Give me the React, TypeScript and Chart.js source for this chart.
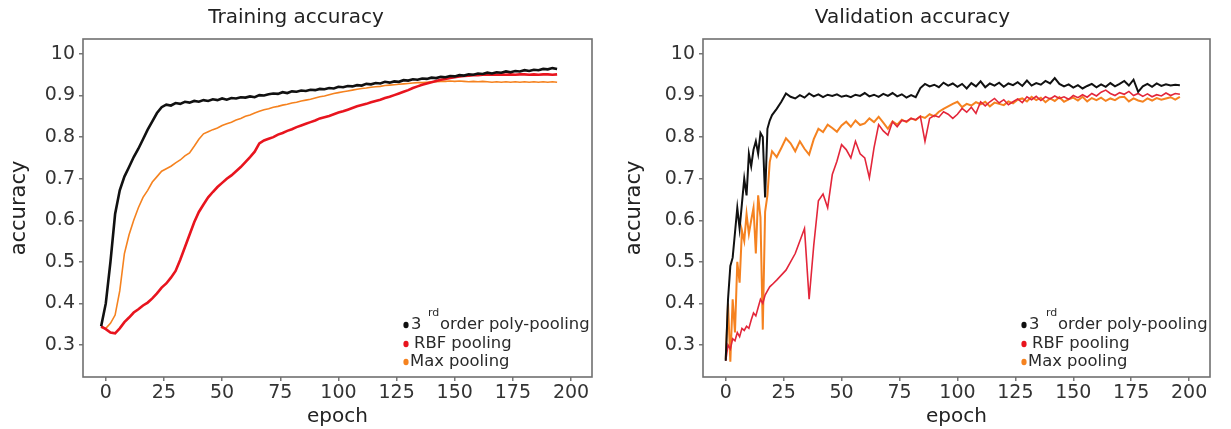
import React, { useEffect, useRef } from 'react';
import { Chart, registerables } from 'chart.js';

Chart.register(...registerables);

// ---------------- data ----------------
const trainEpochs = [
  -2, 0, 2, 4, 6, 8, 10, 12, 14, 16,
  18, 20, 22, 24, 26, 28, 30, 32, 34, 36,
  38, 40, 42, 44, 46, 48, 50, 52, 54, 56,
  58, 60, 62, 64, 66, 68, 70, 72, 74, 76,
  78, 80, 82, 84, 86, 88, 90, 92, 94, 96,
  98, 100, 102, 104, 106, 108, 110, 112, 114, 116,
  118, 120, 122, 124, 126, 128, 130, 132, 134, 136,
  138, 140, 142, 144, 146, 148, 150, 152, 154, 156,
  158, 160, 162, 164, 166, 168, 170, 172, 174, 176,
  178, 180, 182, 184, 186, 188, 190, 192, 194,
];

const trainPoly = [
  0.345, 0.40, 0.50, 0.615, 0.672, 0.705, 0.728, 0.752, 0.772, 0.795,
  0.818, 0.838, 0.858, 0.872, 0.878, 0.876, 0.882, 0.880, 0.885, 0.883,
  0.887, 0.885, 0.889, 0.887, 0.891, 0.889, 0.893, 0.890, 0.894, 0.893,
  0.896, 0.895, 0.898, 0.896, 0.901, 0.900, 0.903, 0.905, 0.904, 0.908,
  0.906, 0.910, 0.909, 0.912, 0.911, 0.914, 0.913, 0.916, 0.915, 0.918,
  0.917, 0.921, 0.920, 0.923, 0.922, 0.925, 0.924, 0.928, 0.927, 0.930,
  0.929, 0.933, 0.931, 0.934, 0.933, 0.937, 0.936, 0.939, 0.938, 0.941,
  0.940, 0.943, 0.942, 0.945, 0.944, 0.947, 0.946, 0.949, 0.948, 0.951,
  0.950, 0.953, 0.952, 0.955, 0.953, 0.956, 0.955, 0.958, 0.956, 0.959,
  0.958, 0.961, 0.959, 0.962, 0.961, 0.964, 0.963, 0.966, 0.964,
];

const trainRbf = [
  0.345, 0.338, 0.330, 0.328, 0.340, 0.355, 0.366, 0.378, 0.386, 0.395,
  0.402, 0.412, 0.424, 0.438, 0.448, 0.462, 0.478, 0.505, 0.535, 0.565,
  0.595, 0.620, 0.638, 0.655, 0.668, 0.680, 0.690, 0.700, 0.708, 0.718,
  0.728, 0.740, 0.752, 0.765, 0.785, 0.792, 0.796, 0.800, 0.806, 0.810,
  0.815, 0.819, 0.824, 0.828, 0.832, 0.836, 0.840, 0.845, 0.848, 0.851,
  0.855, 0.859, 0.862, 0.866, 0.870, 0.874, 0.877, 0.880, 0.884, 0.887,
  0.890, 0.894, 0.897, 0.901, 0.905, 0.909, 0.913, 0.918, 0.922, 0.926,
  0.929, 0.932, 0.935, 0.938, 0.940, 0.942, 0.944, 0.946, 0.947, 0.948,
  0.949, 0.949, 0.950, 0.950, 0.951, 0.950, 0.951, 0.950, 0.951, 0.950,
  0.951, 0.951, 0.950, 0.951, 0.950, 0.951, 0.951, 0.950, 0.951,
];

const trainMax = [
  0.342, 0.340, 0.352, 0.372, 0.430, 0.520, 0.565, 0.600, 0.630, 0.655,
  0.672, 0.692, 0.705, 0.718, 0.724, 0.730, 0.738, 0.745, 0.755, 0.762,
  0.778, 0.795, 0.808, 0.813, 0.818, 0.822, 0.828, 0.832, 0.836, 0.841,
  0.845, 0.850, 0.853, 0.858, 0.862, 0.866, 0.868, 0.872, 0.874, 0.877,
  0.879, 0.882, 0.884, 0.887, 0.889, 0.891, 0.894, 0.897, 0.899, 0.902,
  0.905, 0.907, 0.909, 0.911, 0.913, 0.915, 0.917, 0.918, 0.920, 0.921,
  0.922, 0.924, 0.925, 0.926, 0.927, 0.928, 0.929, 0.930, 0.931, 0.931,
  0.932, 0.933, 0.933, 0.934, 0.934, 0.935, 0.934, 0.935, 0.934, 0.933,
  0.934, 0.933, 0.934, 0.933, 0.932, 0.933, 0.932, 0.933, 0.932, 0.933,
  0.932, 0.933, 0.932, 0.933, 0.932, 0.933, 0.932, 0.933, 0.932,
];

const valEpochs = [
  0, 1, 2, 3, 4, 5, 6, 7, 8, 9, 10, 11, 12, 13, 14, 15, 16, 17, 18, 19, 20,
  22, 24, 26, 28, 30, 32, 34, 36, 38, 40,
  42, 44, 46, 48, 50, 52, 54, 56, 58, 60,
  62, 64, 66, 68, 70, 72, 74, 76, 78, 80,
  82, 84, 86, 88, 90, 92, 94, 96, 98, 100,
  102, 104, 106, 108, 110, 112, 114, 116, 118, 120,
  122, 124, 126, 128, 130, 132, 134, 136, 138, 140,
  142, 144, 146, 148, 150, 152, 154, 156, 158, 160,
  162, 164, 166, 168, 170, 172, 174, 176, 178, 180,
  182, 184, 186, 188, 190, 192, 194, 196,
];

const valPoly = [
  0.262, 0.41, 0.49, 0.51, 0.57, 0.63, 0.58, 0.64, 0.70, 0.66, 0.76, 0.73, 0.77, 0.79, 0.76, 0.81, 0.80, 0.655, 0.82, 0.84, 0.853,
  0.868, 0.885, 0.905, 0.897, 0.893, 0.901, 0.895, 0.905, 0.898, 0.903,
  0.896, 0.902, 0.899, 0.903, 0.897, 0.900, 0.896, 0.902, 0.899, 0.906,
  0.898, 0.902, 0.897, 0.904, 0.899, 0.906, 0.898, 0.903, 0.895, 0.901,
  0.896, 0.918, 0.928, 0.922, 0.926, 0.920, 0.931, 0.924, 0.929, 0.921,
  0.928, 0.917, 0.930, 0.922, 0.934, 0.920, 0.929, 0.924, 0.931, 0.921,
  0.929, 0.925, 0.932, 0.923, 0.936, 0.924, 0.930, 0.926, 0.935, 0.929,
  0.942, 0.928, 0.922, 0.927, 0.919, 0.925, 0.917, 0.923, 0.928, 0.920,
  0.927, 0.921, 0.930, 0.922, 0.928, 0.935, 0.924, 0.938, 0.909, 0.922,
  0.928, 0.921, 0.929, 0.923, 0.927, 0.924, 0.926, 0.925,
];

const valRbf = [
  0.262, 0.30, 0.29, 0.315, 0.31, 0.33, 0.32, 0.34, 0.335, 0.345, 0.34, 0.36, 0.377, 0.37, 0.39, 0.41, 0.40, 0.42, 0.43, 0.44, 0.445,
  0.456, 0.468, 0.480, 0.500, 0.520, 0.550, 0.580, 0.410, 0.540, 0.647,
  0.663, 0.630, 0.710, 0.742, 0.782, 0.770, 0.750, 0.790, 0.760, 0.750,
  0.702, 0.774, 0.830, 0.815, 0.805, 0.837, 0.825, 0.840, 0.838, 0.845,
  0.842, 0.850, 0.790, 0.845, 0.852, 0.848, 0.861, 0.855, 0.845, 0.855,
  0.869, 0.860, 0.872, 0.857, 0.885, 0.875, 0.885, 0.893, 0.882, 0.890,
  0.878, 0.885, 0.892, 0.883, 0.897, 0.890, 0.898, 0.888, 0.897, 0.892,
  0.899, 0.893, 0.897, 0.891, 0.900, 0.895, 0.902, 0.896, 0.905, 0.899,
  0.908, 0.913, 0.905, 0.900, 0.907, 0.903, 0.910, 0.900, 0.905, 0.898,
  0.904, 0.897, 0.902, 0.899, 0.906, 0.900, 0.905, 0.903,
];

const valMax = [
  0.265, 0.40, 0.26, 0.41, 0.33, 0.50, 0.45, 0.575, 0.55, 0.615, 0.567, 0.60, 0.63, 0.52, 0.66, 0.607, 0.337, 0.62, 0.66, 0.74, 0.766,
  0.752, 0.774, 0.797, 0.785, 0.766, 0.790, 0.772, 0.758, 0.795, 0.820,
  0.812, 0.830, 0.822, 0.813, 0.828, 0.837, 0.825, 0.840, 0.829, 0.833,
  0.845, 0.836, 0.849, 0.835, 0.820, 0.838, 0.830, 0.842, 0.836, 0.845,
  0.841, 0.850, 0.846, 0.855, 0.850, 0.861, 0.868, 0.874, 0.880, 0.885,
  0.872, 0.880, 0.876, 0.884, 0.879, 0.885, 0.874, 0.883, 0.880, 0.877,
  0.886, 0.881, 0.890, 0.893, 0.886, 0.897, 0.889, 0.895, 0.884, 0.893,
  0.887, 0.896, 0.885, 0.891, 0.895, 0.888, 0.897, 0.886, 0.894, 0.889,
  0.895, 0.887, 0.893, 0.889, 0.896, 0.897, 0.886, 0.893, 0.888, 0.885,
  0.893, 0.888, 0.894, 0.890, 0.893, 0.896, 0.890, 0.897,
];

const yTickValues = [0.3, 0.4, 0.5, 0.6, 0.7, 0.8, 0.9, 1.0];
const yTickLabels = ['0.3', '0.4', '0.5', '0.6', '0.7', '0.8', '0.9', '10'];
const xTickValues = [0, 25, 50, 75, 100, 125, 150, 175, 200];
const xTickLabels = ['0', '25', '50', '75', '100', '125', '150', '175', '200'];

const chartTitles = ['Training accuracy', 'Validation accuracy'];
const xAxisTitle = 'epoch';
const yAxisTitle = 'accuracy';

// legend: [main, superscript, rest]
const legendEntries = [
  { main: '3', sup: 'rd', rest: 'order poly-pooling' },
  { main: 'RBF pooling', sup: '', rest: '' },
  { main: 'Max pooling', sup: '', rest: '' },
];

const COLOR_POLY = '#111111';
const COLOR_RBF = '#e8141e';
const COLOR_MAX = '#f5821f';
const FONT = "'DejaVu Sans', Verdana, sans-serif";

type Series = { values: number[]; color: string; width: number };

const framePlugin = {
  id: 'frame',
  afterDraw(chart: any) {
    const { ctx, chartArea } = chart;
    ctx.save();
    ctx.strokeStyle = '#707070';
    ctx.lineWidth = 1.6;
    ctx.strokeRect(chartArea.left, chartArea.top, chartArea.right - chartArea.left, chartArea.bottom - chartArea.top);
    ctx.restore();
  },
};

const legendPlugin = {
  id: 'customLegend',
  afterDatasetsDraw(chart: any) {
    const { ctx, chartArea } = chart;
    const colors = [COLOR_POLY, COLOR_RBF, COLOR_MAX];
    const rowsY = [chartArea.bottom - 52, chartArea.bottom - 33, chartArea.bottom - 15];
    const dotX = chartArea.right - 186;
    ctx.save();
    legendEntries.forEach((entry, i) => {
      const y = rowsY[i];
      ctx.fillStyle = colors[i];
      ctx.beginPath();
      ctx.ellipse(dotX, y, 2.6, 3.2, 0, 0, Math.PI * 2);
      ctx.fill();
      ctx.fillStyle = '#2a2a2a';
      ctx.textBaseline = 'middle';
      ctx.textAlign = 'left';
      ctx.font = `16.4px ${FONT}`;
      if (entry.sup) {
        ctx.fillText(entry.main, chartArea.right - 181, y);
        ctx.font = `11px ${FONT}`;
        ctx.fillText(entry.sup, chartArea.right - 164, y - 12);
        ctx.font = `16.4px ${FONT}`;
        ctx.fillText(entry.rest, chartArea.right - 152, y);
      } else {
        ctx.fillText(entry.main, chartArea.right - (i === 1 ? 178 : 182), y);
      }
    });
    ctx.restore();
  },
};

function AccChart(props: {
  title: string;
  epochs: number[];
  series: Series[];
  left: number;
  width: number;
  areaLeft: number;
  areaRight: number;
}) {
  const ref = useRef<HTMLCanvasElement>(null);
  const { title, epochs, series, left, width, areaLeft, areaRight } = props;
  useEffect(() => {
    const canvas = ref.current;
    if (!canvas) return;
    const chart = new Chart(canvas, {
      type: 'line',
      data: {
        datasets: series.map((s) => ({
          data: epochs.map((e, i) => ({ x: e, y: s.values[i] })),
          borderColor: s.color,
          backgroundColor: s.color,
          borderWidth: s.width,
          pointRadius: 0,
          tension: 0,
          fill: false,
        })),
      },
      options: {
        animation: false,
        responsive: false,
        maintainAspectRatio: false,
        events: [],
        layout: { padding: { left: 0, right: width - areaRight, top: 0, bottom: 0 } },
        plugins: {
          legend: { display: false },
          tooltip: { enabled: false },
          title: {
            display: true,
            text: title,
            color: '#222',
            font: { family: FONT, size: 20, weight: 'normal' },
            padding: { top: 6, bottom: 9 },
          },
        },
        scales: {
          x: {
            type: 'linear',
            min: -9.8,
            max: 209,
            afterBuildTicks: (axis: any) => {
              axis.ticks = xTickValues.map((v) => ({ value: v }));
            },
            afterFit: (axis: any) => {
              axis.height = 52;
            },
            ticks: {
              color: '#333',
              font: { family: FONT, size: 19 },
              padding: 1,
              maxRotation: 0,
              autoSkip: false,
              callback: (_v: any, i: number) => xTickLabels[i],
            },
            grid: { display: true, drawOnChartArea: false, drawTicks: true, tickLength: 4, color: '#777', lineWidth: 1.5 },
            border: { display: false },
            title: {
              display: true,
              text: xAxisTitle,
              color: '#222',
              font: { family: FONT, size: 20 },
              padding: { top: 0, bottom: 0 },
            },
          },
          y: {
            type: 'linear',
            min: 0.223,
            max: 1.036,
            afterBuildTicks: (axis: any) => {
              axis.ticks = yTickValues.map((v) => ({ value: v }));
            },
            afterFit: (axis: any) => {
              axis.width = areaLeft;
            },
            ticks: {
              color: '#333',
              font: { family: FONT, size: 19 },
              padding: 4,
              autoSkip: false,
              callback: (_v: any, i: number) => yTickLabels[i],
            },
            grid: { display: true, drawOnChartArea: false, drawTicks: true, tickLength: 4, color: '#777', lineWidth: 1.5 },
            border: { display: false },
            title: {
              display: true,
              text: yAxisTitle,
              color: '#222',
              font: { family: FONT, size: 21 },
              padding: { top: 7, bottom: 0 },
            },
          },
        },
      } as any,
      plugins: [framePlugin, legendPlugin],
    });
    return () => chart.destroy();
  }, []);
  return (
    <canvas
      ref={ref}
      width={width}
      height={429}
      style={{ position: 'absolute', left, top: 0, width, height: 429 }}
    />
  );
}

export default function App() {
  return (
    <div style={{ position: 'fixed', left: 0, top: 0, width: 1231, height: 429, background: '#fff' }}>
      <AccChart
        title={chartTitles[0]}
        epochs={trainEpochs}
        series={[
          { values: trainPoly, color: COLOR_POLY, width: 2.6 },
          { values: trainRbf, color: COLOR_RBF, width: 2.6 },
          { values: trainMax, color: COLOR_MAX, width: 1.6 },
        ]}
        left={0}
        width={615}
        areaLeft={83}
        areaRight={592}
      />
      <AccChart
        title={chartTitles[1]}
        epochs={valEpochs}
        series={[
          { values: valPoly, color: COLOR_POLY, width: 2 },
          { values: valRbf, color: '#e3263a', width: 1.6 },
          { values: valMax, color: '#f58220', width: 2 },
        ]}
        left={615}
        width={616}
        areaLeft={88}
        areaRight={595}
      />
    </div>
  );
}
